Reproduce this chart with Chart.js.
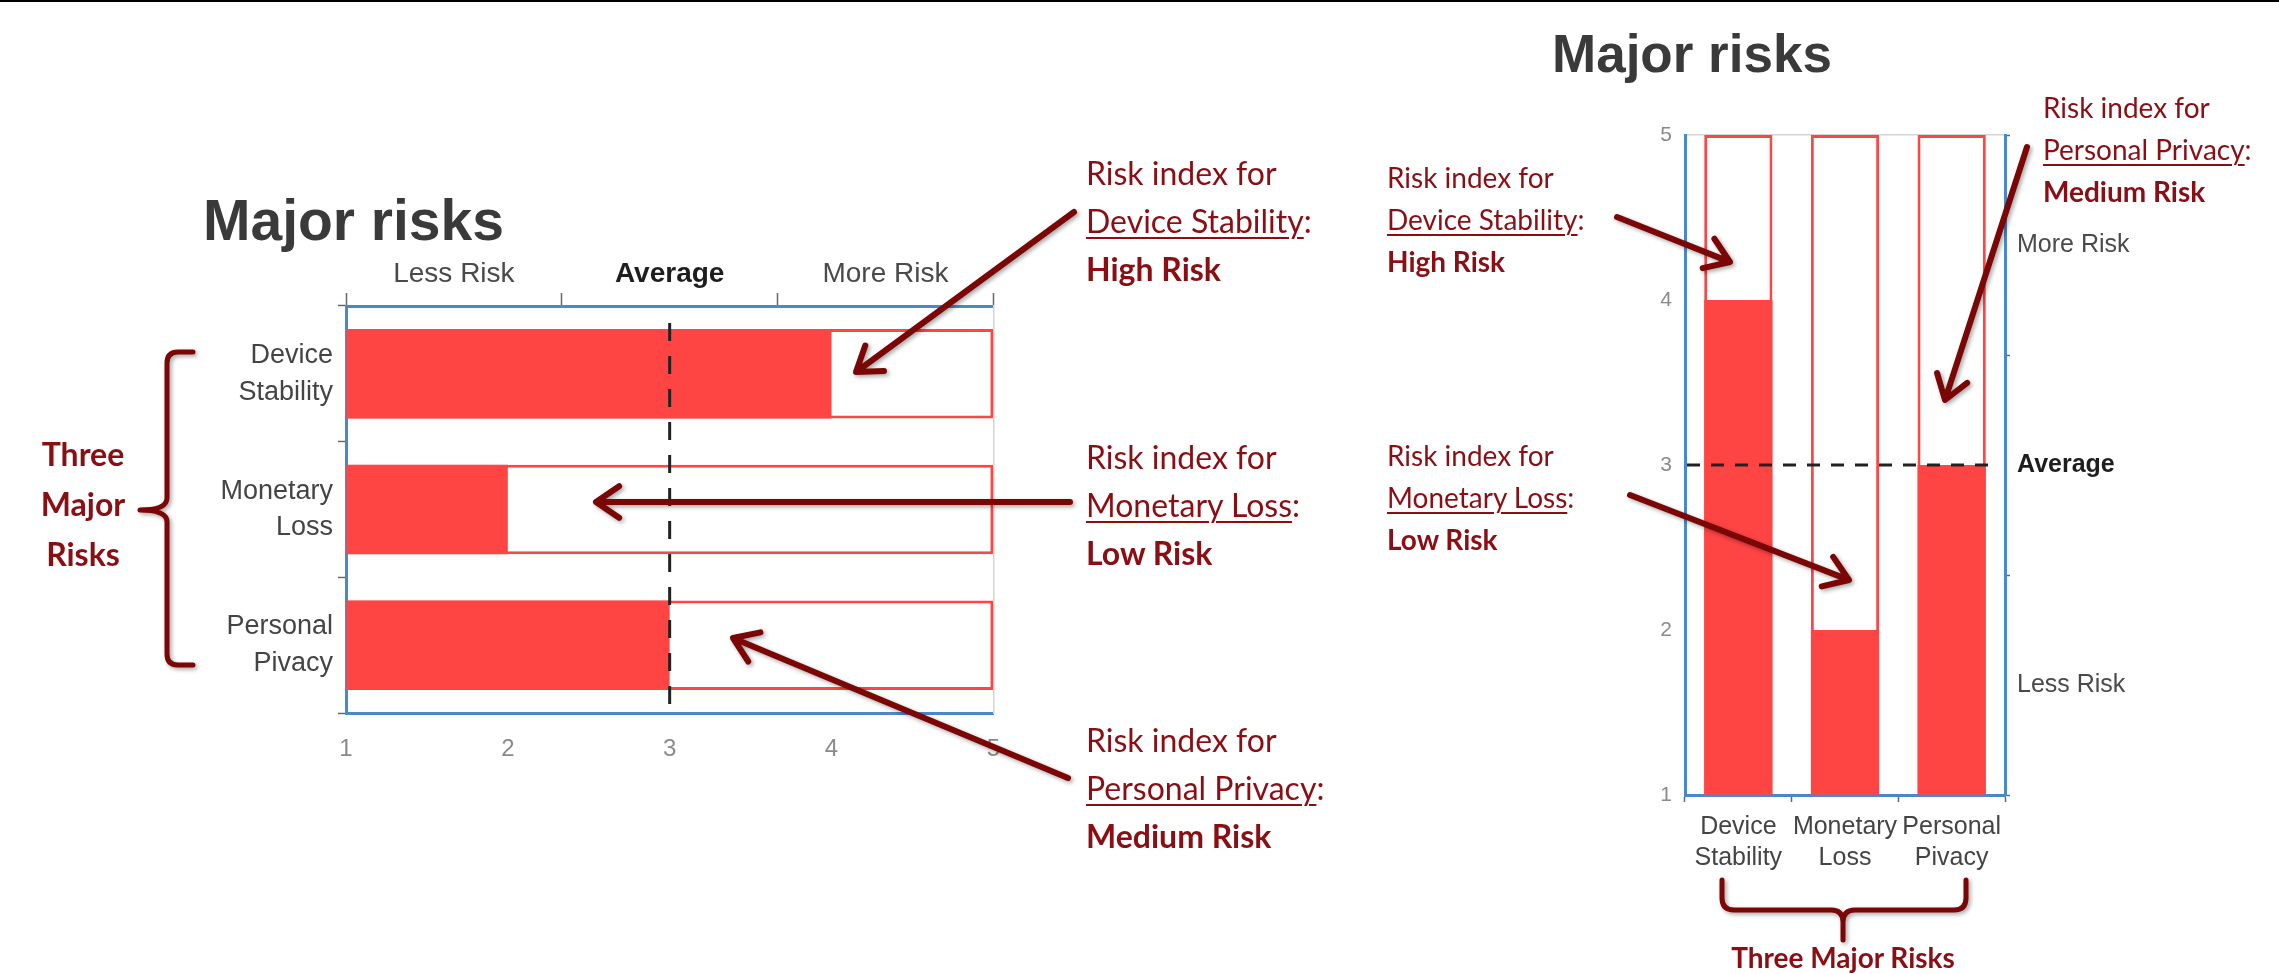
<!DOCTYPE html>
<html>
<head>
<meta charset="utf-8">
<title>Major risks</title>
<script src="https://cdn.jsdelivr.net/npm/chart.js@4.4.1/dist/chart.umd.min.js"></script>
<style>
  html, body { margin: 0; padding: 0; background: #fff; }
  body { width: 2279px; height: 974px; position: relative; overflow: hidden; font-family: Lato, "Open Sans", sans-serif; }
  #topEdge { position: absolute; left: 0; top: 0; width: 2279px; height: 2px; background: #000; }
  canvas { position: absolute; }
  #overlay { left: 0; top: 0; pointer-events: none; }
  .note { position: absolute; color: #8a0f14; white-space: nowrap; }
  .note u { text-decoration-thickness: 2px; text-underline-offset: 4px; }
  .big { font-size: 32px; line-height: 48px; }
  .small { font-size: 28px; line-height: 42px; }
</style>
</head>
<body>
<div id="topEdge"></div>
<canvas id="barsH" width="832" height="623" style="left:190px; top:150px;"></canvas>
<canvas id="barsV" width="620" height="895" style="left:1540px; top:0px;"></canvas>
<canvas id="overlay" width="2279" height="974"></canvas>

<div class="note big" style="left:23px; top:429px; width:120px; text-align:center; line-height:50px; font-weight:bold;">Three<br>Major<br>Risks</div>

<div class="note big" style="left:1086px; top:149px;">Risk index for<br><u>Device Stability</u>:<br><b>High Risk</b></div>
<div class="note big" style="left:1086px; top:433px;">Risk index for<br><u>Monetary Loss</u>:<br><b>Low Risk</b></div>
<div class="note big" style="left:1086px; top:716px;">Risk index for<br><u>Personal Privacy</u>:<br><b>Medium Risk</b></div>

<div class="note small" style="left:1387px; top:156px;">Risk index for<br><u>Device Stability</u>:<br><b>High Risk</b></div>
<div class="note small" style="left:1387px; top:434px;">Risk index for<br><u>Monetary Loss</u>:<br><b>Low Risk</b></div>
<div class="note small" style="left:2043px; top:86px;">Risk index for<br><u>Personal Privacy</u>:<br><b>Medium Risk</b></div>

<div class="note small" style="left:1693px; top:936px; width:300px; text-align:center; font-weight:bold;">Three Major Risks</div>

<script>
// chart values
const categories = [['Device', 'Stability'], ['Monetary', 'Loss'], ['Personal', 'Pivacy']];
const riskIndex = [4, 2, 3];
const fullScale = [5, 5, 5];
const scaleMin = 1;
const scaleMax = 5;
const averageLevel = 3;
const zonesLeftToRight = ['Less Risk', 'Average', 'More Risk'];
const zonesTopToBottom = ['More Risk', 'Average', 'Less Risk'];

const RED = 'rgb(255, 68, 68)';
const BLUE = '#4a89c8';
const DARKRED = '#7a0606';

Chart.defaults.font.family = "'Liberation Sans', Arial, sans-serif";

// dashed "Average" line, placed with the value scale
const averageLine = {
	id: 'averageLine',
	afterDatasetsDraw(chart, args, opts) {
		const { ctx, chartArea, scales } = chart;
		ctx.save();
		ctx.strokeStyle = '#222';
		ctx.lineWidth = 3;
		ctx.setLineDash(opts.dash);
		ctx.beginPath();
		if (opts.vertical) {
			let x = scales.x.getPixelForValue(averageLevel);
			ctx.moveTo(x, chartArea.top + opts.start);
			ctx.lineTo(x, chartArea.bottom + opts.end);
		} else {
			let y = scales.y.getPixelForValue(averageLevel);
			ctx.moveTo(chartArea.left + opts.start, y);
			ctx.lineTo(chartArea.right + opts.end, y);
		}
		ctx.stroke();
		ctx.restore();
	}
};

function zoneFont(size) {
	return ctx => ({ size: size, weight: ctx.index === 1 ? 'bold' : 'normal' });
}
function zoneColor(ctx) {
	return ctx.index === 1 ? '#1e1e1e' : '#4a4a4a';
}

function datasets(pct) {
	return [{
		label: 'Risk index',
		data: riskIndex,
		base: scaleMin,
		backgroundColor: RED,
		borderWidth: 0,
		grouped: false,
		order: 0,
		barPercentage: pct,
		categoryPercentage: 1
	}, {
		label: 'Scale',
		data: fullScale,
		base: scaleMin,
		backgroundColor: '#fff',
		borderColor: RED,
		borderWidth: 3,
		borderSkipped: false,
		grouped: false,
		order: 1,
		barPercentage: pct,
		categoryPercentage: 1
	}];
}

// horizontal version
new Chart(document.getElementById('barsH'), {
	type: 'bar',
	data: { labels: categories, datasets: datasets(0.66) },
	options: {
		indexAxis: 'y',
		responsive: false,
		animation: false,
		layout: { padding: { left: 13, right: 20, top: 0, bottom: 10 } },
		plugins: {
			legend: { display: false },
			tooltip: { enabled: false },
			title: {
				display: true, text: 'Major risks', align: 'start', color: '#3a3a3a',
				font: { size: 57, weight: 'bold', lineHeight: 1.2 },
				padding: { top: 40, bottom: 0 }
			},
			averageLine: { vertical: true, dash: [18, 15], start: 17, end: 4 }
		},
		scales: {
			x: {
				type: 'linear', position: 'bottom', min: scaleMin, max: scaleMax,
				ticks: { stepSize: 1, color: '#8a8a8a', font: { size: 24 }, padding: 22 },
				grid: { drawOnChartArea: false, drawTicks: false },
				border: { color: BLUE, width: 3 },
				afterFit: s => { s.height = 50; }
			},
			xTop: {
				type: 'category', position: 'top', labels: zonesLeftToRight, offset: true,
				grid: { offset: true, drawOnChartArea: false, tickLength: 13, tickColor: '#666', tickWidth: 1.5 },
				border: { color: BLUE, width: 3 },
				ticks: { padding: 2, color: zoneColor, font: zoneFont(28) },
				afterFit: s => { s.height = 47.6; }
			},
			y: {
				type: 'category', position: 'left', offset: true,
				grid: { offset: true, drawOnChartArea: false, tickLength: 8, tickColor: '#666', tickWidth: 1.5 },
				border: { color: BLUE, width: 3 },
				ticks: { padding: 5, color: '#444', font: { size: 27, lineHeight: 1.35 } },
				afterFit: s => { s.width = 143; }
			},
			yEdge: {
				type: 'category', position: 'right', labels: categories, offset: true,
				grid: { drawOnChartArea: false, drawTicks: false },
				border: { color: '#d4d4d4', width: 1.5 },
				ticks: { display: false },
				afterFit: s => { s.width = 1; }
			}
		}
	},
	plugins: [averageLine]
});

// vertical version
new Chart(document.getElementById('barsV'), {
	type: 'bar',
	data: { labels: categories, datasets: datasets(0.64) },
	options: {
		responsive: false,
		animation: false,
		layout: { padding: { left: 12, right: 5, top: 0, bottom: 5 } },
		plugins: {
			legend: { display: false },
			tooltip: { enabled: false },
			title: {
				display: true, text: 'Major risks', align: 'start', color: '#3a3a3a',
				font: { size: 53, weight: 'bold', lineHeight: 1.2 },
				padding: { top: 26, bottom: 45.4 }
			},
			averageLine: { vertical: false, dash: [13, 11], start: 2, end: -16 }
		},
		scales: {
			x: {
				type: 'category', position: 'bottom', offset: true,
				grid: { offset: true, drawOnChartArea: false, tickLength: 7, tickColor: '#666', tickWidth: 1.5 },
				border: { color: BLUE, width: 3 },
				ticks: { padding: 9, color: '#444', autoSkip: false, maxRotation: 0, font: { size: 25, lineHeight: 1.25 } },
				afterFit: s => { s.height = 95; }
			},
			xEdge: {
				type: 'category', position: 'top', labels: categories, offset: true,
				grid: { drawOnChartArea: false, drawTicks: false },
				border: { color: '#d4d4d4', width: 1.5 },
				ticks: { display: false },
				afterFit: s => { s.height = 0; }
			},
			y: {
				type: 'linear', position: 'left', min: scaleMin, max: scaleMax,
				ticks: { stepSize: 1, color: '#8a8a8a', font: { size: 21 }, padding: 13 },
				grid: { drawOnChartArea: false, drawTicks: false },
				border: { color: BLUE, width: 3 },
				afterFit: s => { s.width = 133; }
			},
			yZone: {
				type: 'category', position: 'right', labels: zonesTopToBottom, offset: true,
				grid: { offset: true, drawOnChartArea: false, tickLength: 5, tickColor: '#666', tickWidth: 1.5 },
				border: { color: BLUE, width: 3 },
				ticks: { padding: 7, color: zoneColor, font: zoneFont(25) },
				afterFit: s => { s.width = 150; }
			}
		}
	},
	plugins: [averageLine]
});

// arrows and braces of the callouts
const ov = document.getElementById('overlay').getContext('2d');

function arrow(x1, y1, x2, y2) {
	let ang = Math.atan2(y2 - y1, x2 - x1);
	let arm = 28, spread = 0.6;
	ov.beginPath();
	ov.moveTo(x1, y1);
	ov.lineTo(x2 - Math.cos(ang) * 3, y2 - Math.sin(ang) * 3);
	ov.moveTo(x2 - Math.cos(ang - spread) * arm, y2 - Math.sin(ang - spread) * arm);
	ov.lineTo(x2, y2);
	ov.lineTo(x2 - Math.cos(ang + spread) * arm, y2 - Math.sin(ang + spread) * arm);
	ov.stroke();
}

ov.strokeStyle = DARKRED;
ov.lineWidth = 6;
ov.lineCap = 'round';
ov.lineJoin = 'round';
ov.shadowColor = 'rgba(0,0,0,0.35)';
ov.shadowBlur = 4;
ov.shadowOffsetX = 2;
ov.shadowOffsetY = 2;

arrow(1074, 212, 856, 372);
arrow(1070, 502, 596, 502);
arrow(1068, 778, 733, 638);
arrow(1617, 217, 1730, 262);
arrow(1630, 495, 1849, 580);
arrow(2027, 147, 1945, 400);

// left brace
ov.lineWidth = 5;
ov.beginPath();
ov.moveTo(193, 352);
ov.lineTo(178, 352);
ov.quadraticCurveTo(167, 352, 167, 363);
ov.lineTo(167, 498);
ov.quadraticCurveTo(167, 510, 140, 510);
ov.quadraticCurveTo(167, 510, 167, 522);
ov.lineTo(167, 654);
ov.quadraticCurveTo(167, 665, 178, 665);
ov.lineTo(193, 665);
ov.stroke();

// bottom brace
ov.beginPath();
ov.moveTo(1722, 880);
ov.lineTo(1722, 898);
ov.quadraticCurveTo(1722, 910, 1734, 910);
ov.lineTo(1831, 910);
ov.quadraticCurveTo(1843, 910, 1843, 922);
ov.lineTo(1843, 940);
ov.moveTo(1843, 922);
ov.quadraticCurveTo(1843, 910, 1855, 910);
ov.lineTo(1954, 910);
ov.quadraticCurveTo(1966, 910, 1966, 898);
ov.lineTo(1966, 880);
ov.stroke();
</script>
</body>
</html>
